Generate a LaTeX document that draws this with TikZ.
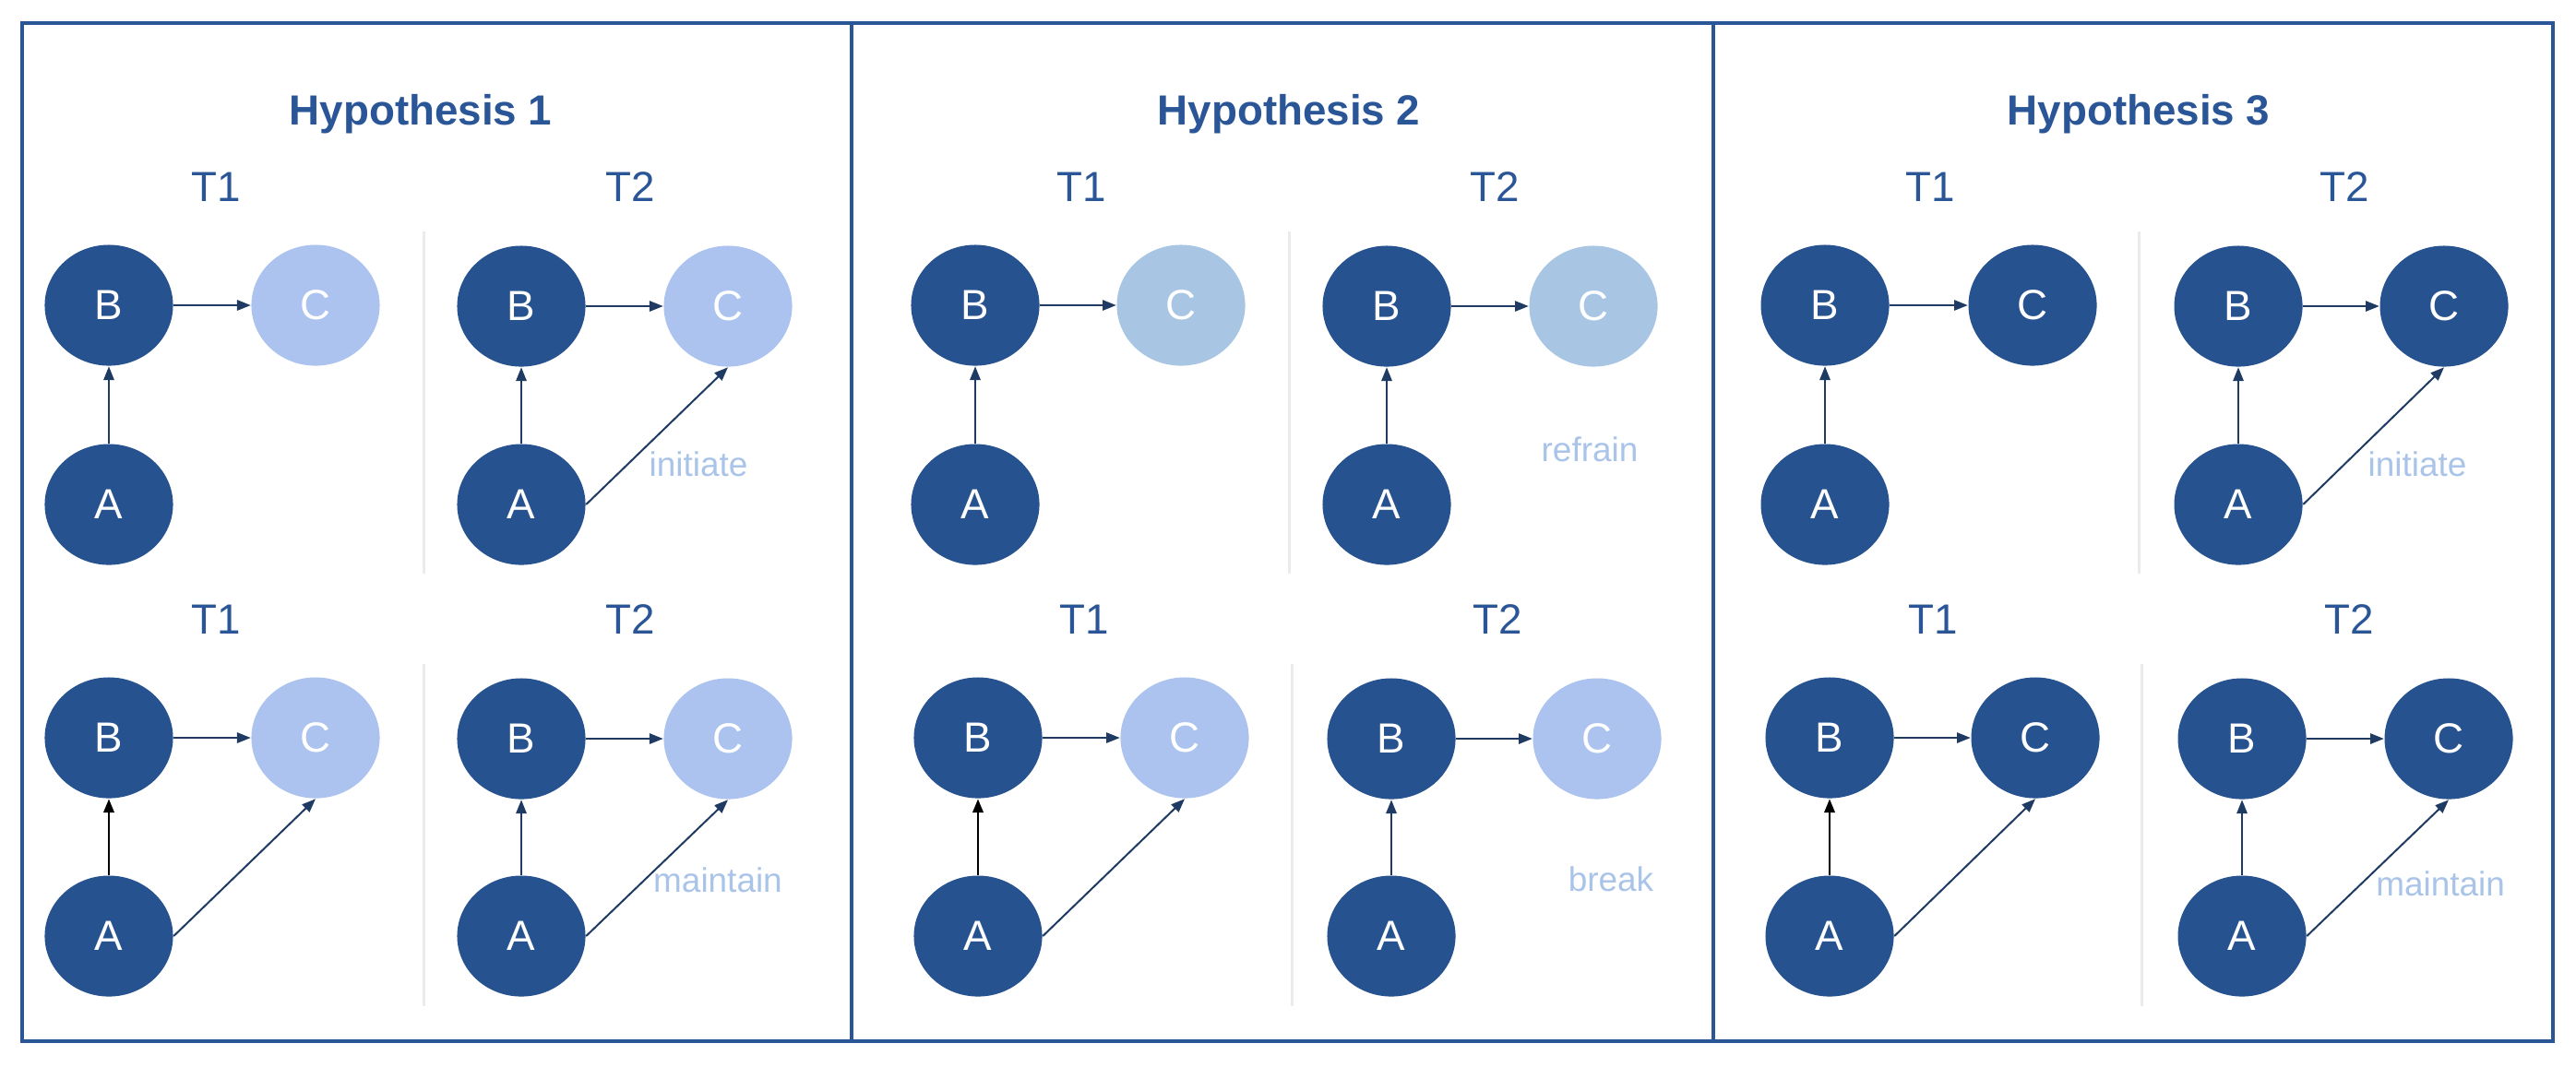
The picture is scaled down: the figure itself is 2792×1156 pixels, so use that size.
\documentclass[tikz,border=0pt]{standalone}
\usepackage{fontspec}
\setmainfont{Liberation Sans}
\usetikzlibrary{shapes.geometric,arrows.meta}
\definecolor{dk}{HTML}{26528F}
\definecolor{framec}{HTML}{2A5596}
\definecolor{lav}{HTML}{ABC3EE}
\definecolor{sky}{HTML}{A8C6E4}
\definecolor{lbl}{HTML}{A9C4E8}
\definecolor{arr}{HTML}{1F3B63}
\definecolor{sepc}{HTML}{EBEBEB}
\tikzset{
  nd/.style={ellipse, minimum width=1.39cm, minimum height=1.31cm, inner sep=0pt, fill=dk, text=white, font=\fontsize{13}{15}\selectfont},
  conn/.style={draw=arr, line width=0.57pt, -{Triangle[length=4.2pt,width=3.2pt]}},
  blk/.style={draw=black, line width=0.75pt, -{Triangle[length=4.2pt,width=3.2pt]}},
  ttl/.style={anchor=base, text=framec, font=\bfseries\fontsize{13}{15}\selectfont},
  tlab/.style={anchor=base, text=framec, font=\fontsize{13}{15}\selectfont},
  elab/.style={anchor=base, text=lbl, font=\fontsize{10.5}{12}\selectfont},
  sepl/.style={draw=sepc, line width=0.85pt},
  framel/.style={draw=framec, line width=1.1pt},
}
% #1 prefix, #2 xB, #3 xC, #4 y of B/C, #5 y of A, #6 fill of C
\newcommand{\mkgraph}[6]{%
  \node[nd] (#1B) at (#2,#4) {B};
  \node[nd,fill=#6] (#1C) at (#3,#4) {C};
  \node[nd] (#1A) at (#2,#5) {A};
  \draw[conn] (#1B) -- (#1C);
}
\begin{document}
\begin{tikzpicture}[x=0.01cm,y=-0.01cm]
\useasboundingbox (0,0) rectangle (2792,1156);
\fill[white] (0,0) rectangle (2792,1156);
% frame
\draw[framel] (24,25) rectangle (2767,1129);
\draw[framel] (923,25) -- (923,1129);
\draw[framel] (1857,25) -- (1857,1129);

% ---------------- Hypothesis 1 ----------------
\node[ttl] (h1) at (456,135) {Hypothesis 1};
\node[tlab] (h1t1a) at (234,218) {T1};
\node[tlab] (h1t2a) at (683,218) {T2};
\node[tlab] (h1t1b) at (234,687) {T1};
\node[tlab] (h1t2b) at (683,687) {T2};
\draw[sepl] (459,251) -- (459,622);
\draw[sepl] (459,720) -- (459,1091);
\mkgraph{pa}{118}{342}{331}{547}{lav}
\draw[conn] (paA) -- (paB);
\mkgraph{pb}{565}{789}{332}{547}{lav}
\draw[conn] (pbA) -- (pbB);
\draw[conn] (pbA.east) -- (pbC.south);
\node[elab] (l1) at (757,516) {initiate};
\mkgraph{pc}{118}{342}{800}{1015}{lav}
\draw[blk] (pcA) -- (pcB);
\draw[conn] (pcA.east) -- (pcC.south);
\mkgraph{pd}{565}{789}{801}{1015}{lav}
\draw[conn] (pdA) -- (pdB);
\draw[conn] (pdA.east) -- (pdC.south);
\node[elab] (l2) at (778,967) {maintain};

% ---------------- Hypothesis 2 ----------------
\node[ttl] (h2) at (1397,135) {Hypothesis 2};
\node[tlab] (h2t1a) at (1172,218) {T1};
\node[tlab] (h2t2a) at (1620,218) {T2};
\node[tlab] (h2t1b) at (1175,687) {T1};
\node[tlab] (h2t2b) at (1623,687) {T2};
\draw[sepl] (1397,251) -- (1397,622);
\draw[sepl] (1400,720) -- (1400,1091);
\mkgraph{qa}{1057}{1280}{331}{547}{sky}
\draw[conn] (qaA) -- (qaB);
\mkgraph{qb}{1503}{1727}{332}{547}{sky}
\draw[conn] (qbA) -- (qbB);
\node[elab] (l3) at (1723,500) {refrain};
\mkgraph{qc}{1060}{1284}{800}{1015}{lav}
\draw[blk] (qcA) -- (qcB);
\draw[conn] (qcA.east) -- (qcC.south);
\mkgraph{qd}{1508}{1731}{801}{1015}{lav}
\draw[conn] (qdA) -- (qdB);
\node[elab] (l4) at (1746,966) {break};

% ---------------- Hypothesis 3 ----------------
\node[ttl] (h3) at (2318,135) {Hypothesis 3};
\node[tlab] (h3t1a) at (2092,218) {T1};
\node[tlab] (h3t2a) at (2541,218) {T2};
\node[tlab] (h3t1b) at (2095,687) {T1};
\node[tlab] (h3t2b) at (2546,687) {T2};
\draw[sepl] (2318,251) -- (2318,622);
\draw[sepl] (2321,720) -- (2321,1091);
\mkgraph{ra}{1978}{2203}{331}{547}{dk}
\draw[conn] (raA) -- (raB);
\mkgraph{rb}{2426}{2649}{332}{547}{dk}
\draw[conn] (rbA) -- (rbB);
\draw[conn] (rbA.east) -- (rbC.south);
\node[elab] (l5) at (2620,516) {initiate};
\mkgraph{rc}{1983}{2206}{800}{1015}{dk}
\draw[blk] (rcA) -- (rcB);
\draw[conn] (rcA.east) -- (rcC.south);
\mkgraph{rd}{2430}{2654}{801}{1015}{dk}
\draw[conn] (rdA) -- (rdB);
\draw[conn] (rdA.east) -- (rdC.south);
\node[elab] (l6) at (2645,971) {maintain};
\end{tikzpicture}
\end{document}
